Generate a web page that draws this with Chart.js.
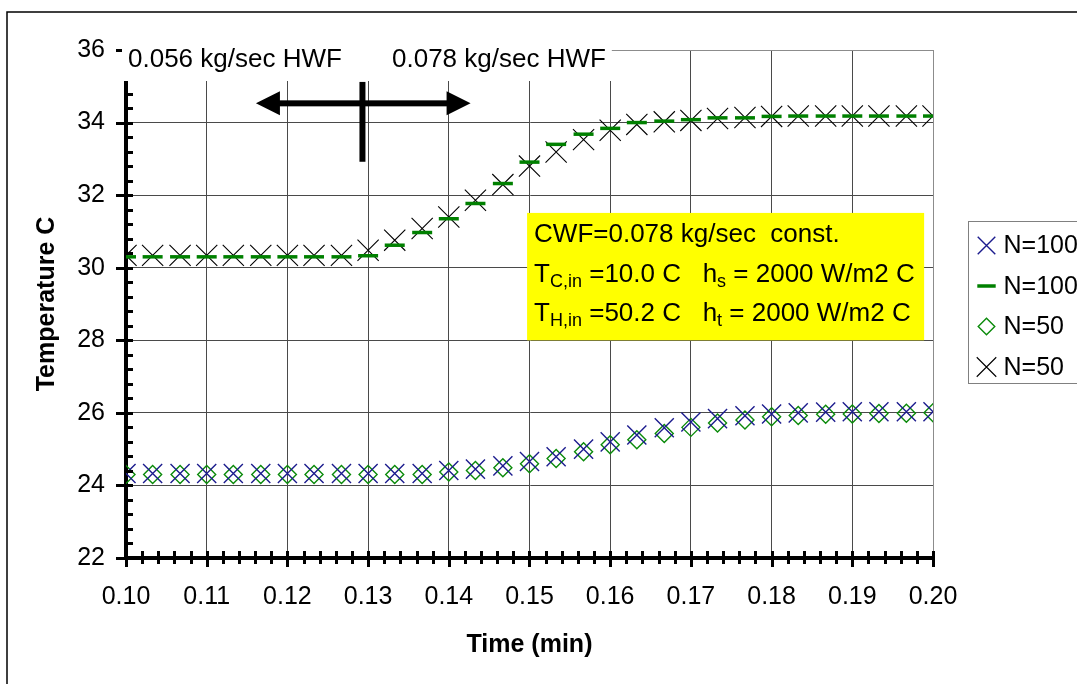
<!DOCTYPE html>
<html>
<head>
<meta charset="utf-8">
<title>Outlet temperature vs time</title>
<script src="https://cdn.jsdelivr.net/npm/chart.js@4.4.1/dist/chart.umd.min.js"></script>
<style>
  html, body { margin: 0; padding: 0; background: #fff; overflow: hidden; }
  #wrap { width: 1077px; height: 684px; }
</style>
</head>
<body>
<div id="wrap"><canvas id="chart" width="1077" height="684"></canvas></div>
<script>
// time axis (min) and the four outlet temperature series (C)
const times = [0.1000, 0.1033, 0.1067, 0.1100, 0.1133, 0.1167, 0.1200, 0.1233, 0.1267, 0.1300,
  0.1333, 0.1367, 0.1400, 0.1433, 0.1467, 0.1500, 0.1533, 0.1567, 0.1600, 0.1633,
  0.1667, 0.1700, 0.1733, 0.1767, 0.1800, 0.1833, 0.1867, 0.1900, 0.1933, 0.1967, 0.2000];

const coldN100 = [24.33, 24.33, 24.33, 24.33, 24.33, 24.33, 24.33, 24.33, 24.33, 24.33,
  24.33, 24.33, 24.41, 24.45, 24.54, 24.66, 24.79, 25.00, 25.20, 25.39,
  25.59, 25.75, 25.84, 25.92, 25.97, 26.00, 26.02, 26.03, 26.03, 26.03, 26.03];
const hotN100 = [30.30, 30.30, 30.30, 30.30, 30.30, 30.30, 30.30, 30.30, 30.30, 30.33,
  30.62, 30.97, 31.35, 31.77, 32.32, 32.91, 33.40, 33.68, 33.84, 34.00,
  34.04, 34.08, 34.13, 34.13, 34.17, 34.18, 34.18, 34.18, 34.18, 34.18, 34.18];
const coldN50 = [24.30, 24.30, 24.30, 24.30, 24.30, 24.30, 24.30, 24.30, 24.30, 24.30,
  24.30, 24.30, 24.37, 24.41, 24.49, 24.60, 24.74, 24.93, 25.12, 25.26,
  25.43, 25.60, 25.72, 25.80, 25.89, 25.93, 25.96, 25.97, 25.98, 25.99, 26.00];
const hotN50 = [30.34, 30.34, 30.34, 30.34, 30.34, 30.34, 30.34, 30.34, 30.34, 30.48,
  30.76, 31.08, 31.40, 31.86, 32.29, 32.80, 33.19, 33.53, 33.79, 33.95,
  34.02, 34.06, 34.11, 34.14, 34.17, 34.18, 34.18, 34.18, 34.18, 34.18, 34.18];

const seriesNames = ["N=100", "N=100", "N=50", "N=50"];
const xTicks = [0.10, 0.11, 0.12, 0.13, 0.14, 0.15, 0.16, 0.17, 0.18, 0.19, 0.20];
const yTicks = [22, 24, 26, 28, 30, 32, 34, 36];

const FONT = "'Liberation Sans', Arial, sans-serif";

function points(ys) {
  return times.map((t, i) => ({ x: t, y: ys[i] }));
}

// ticks on both axes, crossing like the old spreadsheet style
function drawAxisTicks(chart) {
  const ctx = chart.ctx;
  const { left, bottom } = chart.chartArea;
  const xs = chart.scales.x, ys = chart.scales.y;
  ctx.save();
  ctx.strokeStyle = "#000";
  ctx.lineWidth = 3;
  ctx.beginPath();
  for (let i = 0; i < yTicks.length; i++) {
    const py = Math.round(ys.getPixelForValue(yTicks[i])) + 0.5;
    ctx.moveTo(left - 10, py); ctx.lineTo(left + 7, py);
    if (i < yTicks.length - 1) {
      const step = (yTicks[i + 1] - yTicks[i]) / 5;
      for (let k = 1; k < 5; k++) {
        const my = Math.round(ys.getPixelForValue(yTicks[i] + k * step)) + 0.5;
        ctx.moveTo(left, my); ctx.lineTo(left + 7, my);
      }
    }
  }
  for (let i = 0; i < xTicks.length; i++) {
    const px = Math.round(xs.getPixelForValue(xTicks[i])) + 0.5;
    ctx.moveTo(px, bottom - 7); ctx.lineTo(px, bottom + 9);
    if (i < xTicks.length - 1) {
      const step = (xTicks[i + 1] - xTicks[i]) / 5;
      for (let k = 1; k < 5; k++) {
        const mx = Math.round(xs.getPixelForValue(xTicks[i] + k * step)) + 0.5;
        ctx.moveTo(mx, bottom - 7); ctx.lineTo(mx, bottom + 6);
      }
    }
  }
  ctx.stroke();
  ctx.restore();
}

function drawRuns(ctx, runs, x, y) {
  for (const [txt, sub] of runs) {
    ctx.font = sub ? "18px " + FONT : "26px " + FONT;
    ctx.fillText(txt, x, sub ? y + 5 : y);
    x += ctx.measureText(txt).width;
  }
}

function drawMarker(ctx, ds, x, y) {
  ctx.save();
  ctx.strokeStyle = ds.pointBorderColor;
  ctx.fillStyle = "rgba(0,0,0,0)";
  ctx.lineWidth = ds.pointBorderWidth;
  Chart.helpers.drawPoint(ctx, {
    pointStyle: ds.pointStyle, radius: ds.pointRadius * 0.92,
    rotation: 0, borderWidth: ds.pointBorderWidth
  }, x, y);
  ctx.restore();
}

const decorations = {
  id: "decorations",
  beforeDatasetsDraw(chart) {
    const ctx = chart.ctx;
    const xs = chart.scales.x, ys = chart.scales.y;
    // parameter box
    const bx = xs.getPixelForValue(0.1497), by = ys.getPixelForValue(31.51);
    const bw = xs.getPixelForValue(0.1989) - bx, bh = ys.getPixelForValue(28.0) - by;
    ctx.save();
    ctx.fillStyle = "#ffff00";
    ctx.fillRect(bx, by, bw, bh);
    ctx.fillStyle = "#000";
    ctx.textBaseline = "alphabetic";
    ctx.textAlign = "left";
    drawRuns(ctx, [["CWF=0.078 kg/sec  const."]], bx + 7, by + 29);
    drawRuns(ctx, [["T"], ["C,in", 1], [" =10.0 C   h"], ["s", 1], [" = 2000 W/m2 C"]], bx + 7, by + 69);
    drawRuns(ctx, [["T"], ["H,in", 1], [" =50.2 C   h"], ["t", 1], [" = 2000 W/m2 C"]], bx + 7, by + 108);
    ctx.restore();
  },
  afterDraw(chart) {
    const ctx = chart.ctx;
    const { left, top } = chart.chartArea;
    const xs = chart.scales.x, ys = chart.scales.y;
    drawAxisTicks(chart);

    ctx.save();
    // outer frame
    ctx.strokeStyle = "#000";
    ctx.lineWidth = 1.5;
    ctx.strokeRect(7, 12, 1100, 700);

    // flow-rate labels over the top of the plot
    const stripRight = xs.getPixelForValue(0.1602);
    ctx.fillStyle = "#fff";
    ctx.fillRect(left - 4, top - 12, stripRight - left + 4, 43);
    ctx.fillStyle = "#000";
    ctx.font = "26px " + FONT;
    ctx.textBaseline = "alphabetic";
    ctx.fillText("0.056 kg/sec HWF", left + 2, top + 17);
    ctx.fillText("0.078 kg/sec HWF", left + 266, top + 17);

    // switch-over marker with double arrow
    const ay = ys.getPixelForValue(34.53);
    const aL = xs.getPixelForValue(0.1161), aR = xs.getPixelForValue(0.1427);
    const head = 24, half = 12;
    ctx.fillRect(aL + head - 1, ay - 3, aR - aL - 2 * head + 2, 6);
    ctx.beginPath();
    ctx.moveTo(aL, ay); ctx.lineTo(aL + head, ay - half); ctx.lineTo(aL + head, ay + half); ctx.closePath();
    ctx.moveTo(aR, ay); ctx.lineTo(aR - head, ay - half); ctx.lineTo(aR - head, ay + half); ctx.closePath();
    ctx.fill();
    const bxp = xs.getPixelForValue(0.1293);
    const bt = ys.getPixelForValue(35.12), bb = ys.getPixelForValue(32.92);
    ctx.fillRect(bxp - 3, bt, 6, bb - bt);

    // legend
    const lx = 968.5, ly = 221.5;
    ctx.strokeStyle = "#808080";
    ctx.lineWidth = 1;
    ctx.strokeRect(lx, ly, 200, 162);
    ctx.font = "25px " + FONT;
    ctx.textBaseline = "middle";
    chart.data.datasets.forEach((ds, i) => {
      const cy = ly + 24 + i * 40.5;
      drawMarker(ctx, ds, lx + 18, cy);
      ctx.fillStyle = "#000";
      ctx.fillText(ds.label, lx + 35, cy + 1);
    });
    ctx.restore();
  }
};

new Chart(document.getElementById("chart"), {
  type: "scatter",
  data: {
    datasets: [
      { label: seriesNames[0], data: points(coldN100), pointStyle: "crossRot", pointRadius: 13.5,
        pointBorderColor: "#1c1c8e", pointBorderWidth: 1.4, pointBackgroundColor: "rgba(0,0,0,0)" },
      { label: seriesNames[1], data: points(hotN100), pointStyle: "line", pointRadius: 10,
        pointBorderColor: "#008000", pointBorderWidth: 3.5, pointBackgroundColor: "rgba(0,0,0,0)" },
      { label: seriesNames[2], data: points(coldN50), pointStyle: "rectRot", pointRadius: 9,
        pointBorderColor: "#0a8a0a", pointBorderWidth: 1.4, pointBackgroundColor: "rgba(0,0,0,0)" },
      { label: seriesNames[3], data: points(hotN50), pointStyle: "crossRot", pointRadius: 15,
        pointBorderColor: "#000", pointBorderWidth: 1.1, pointBackgroundColor: "rgba(0,0,0,0)" }
    ]
  },
  options: {
    responsive: false,
    animation: false,
    events: [],
    layout: { padding: { top: 50, right: 144, bottom: 0, left: 0 } },
    plugins: { legend: { display: false }, tooltip: { enabled: false } },
    scales: {
      x: {
        type: "linear", min: 0.1, max: 0.2,
        afterBuildTicks: s => { s.ticks = xTicks.map(v => ({ value: v })); },
        afterFit: s => { s.height = 126; },
        grid: {
          drawTicks: false, lineWidth: 1,
          color: c => (c.tick && c.tick.value > 0.1999) ? "#8c8c8c" : "#4a4a4a"
        },
        border: { display: true, color: "#000", width: 4 },
        ticks: {
          color: "#000", padding: 24, maxRotation: 0, autoSkip: false,
          font: { family: FONT, size: 25 },
          callback: v => v.toFixed(2)
        },
        title: {
          display: true, text: "Time (min)", color: "#000",
          font: { family: FONT, size: 25, weight: "bold" },
          padding: { top: 0, bottom: 24 }
        }
      },
      y: {
        type: "linear", min: 22, max: 36,
        afterBuildTicks: s => { s.ticks = yTicks.map(v => ({ value: v })); },
        afterFit: s => { s.width = 126; },
        grid: {
          drawTicks: false, lineWidth: 1,
          color: c => (c.tick && c.tick.value > 35.9) ? "#8c8c8c" : "#4a4a4a"
        },
        border: { display: true, color: "#000", width: 4 },
        ticks: {
          color: "#000", padding: 21,
          font: { family: FONT, size: 25 }
        },
        title: {
          display: true, text: "Temperature C", color: "#000",
          font: { family: FONT, size: 25, weight: "bold" },
          padding: { top: 32, bottom: 0 }
        }
      }
    }
  },
  plugins: [decorations]
});
</script>
</body>
</html>
